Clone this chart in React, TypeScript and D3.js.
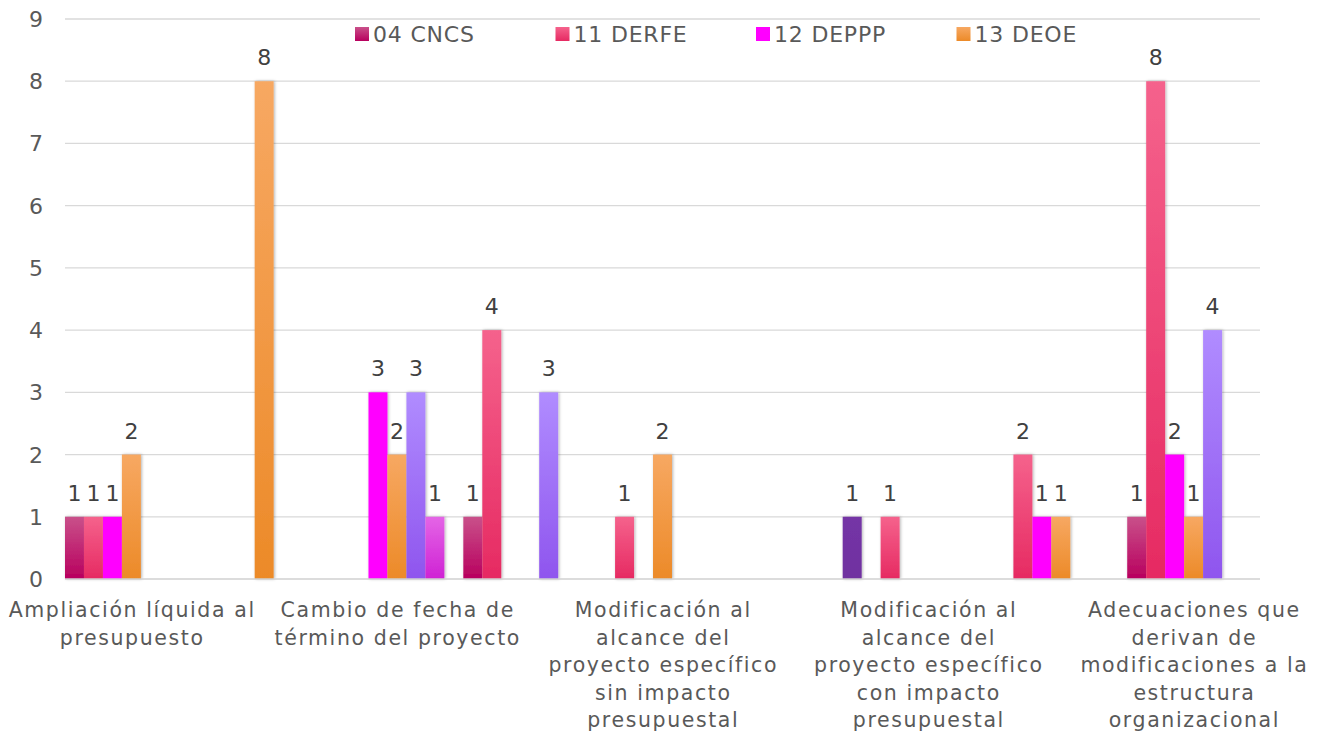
import React, { useEffect, useRef } from 'react';
import * as d3 from 'd3';

// categories on the x axis (Excel only prints every second label)
const categories = [
  'Ampliación líquida al\npresupuesto',
  'Categoría 2',
  'Cambio de fecha de\ntérmino del proyecto',
  'Categoría 4',
  'Modificación al\nalcance del\nproyecto específico\nsin impacto\npresupuestal',
  'Categoría 6',
  'Modificación al\nalcance del\nproyecto específico\ncon impacto\npresupuestal',
  'Categoría 8',
  'Adecuaciones que\nderivan de\nmodificaciones a la\nestructura\norganizacional',
];

const seriesNames = ['04 CNCS', '11 DERFE', '12 DEPPP', '13 DEOE', '14 DECEYEC', '15 DEA', '16 DESPEN'];
const legendNames = ['04 CNCS', '11 DERFE', '12 DEPPP', '13 DEOE'];

const cncs = [1, 0, 0, 1, 0, 0, 0, 0, 1];
const derfe = [1, 0, 0, 4, 1, 0, 1, 2, 8];
const deppp = [1, 0, 3, 0, 0, 0, 0, 1, 2];
const deoe = [2, 8, 2, 0, 2, 0, 0, 1, 1];
const deceyec = [0, 0, 3, 3, 0, 0, 0, 0, 4];
const dea = [0, 0, 1, 0, 0, 0, 0, 0, 0];
const despen = [0, 0, 0, 0, 0, 1, 0, 0, 0];

const seriesValues = [cncs, derfe, deppp, deoe, deceyec, dea, despen];

// gradient stops (top, bottom) per series
const seriesColors: Array<[string, string]> = [
  ['#C9508A', '#B8005E'],
  ['#F5628C', '#E62A62'],
  ['#FF00FF', '#FF00FF'],
  ['#F7A862', '#EC8A28'],
  ['#B08CFF', '#8F55EE'],
  ['#E465E6', '#CF22D4'],
  ['#7435A6', '#7030A0'],
];

const yTicks = [0, 1, 2, 3, 4, 5, 6, 7, 8, 9];

const W = 1323;
const H = 740;
const FONT = '"Century Gothic", "DejaVu Sans", sans-serif';

const App: React.FC = () => {
  const svgRef = useRef<SVGSVGElement>(null);

  useEffect(() => {
    if (!svgRef.current) return;
    const svg = d3.select(svgRef.current);
    svg.selectAll('*').remove();

    const left = 65, right = 1260, top = 19, bottom = 579;

    const defs = svg.append('defs');
    seriesColors.forEach((c, i) => {
      const lg = defs.append('linearGradient')
        .attr('id', `grad${i}`)
        .attr('x1', 0).attr('y1', 0).attr('x2', 0).attr('y2', 1);
      lg.append('stop').attr('offset', '0%').attr('stop-color', c[0]);
      lg.append('stop').attr('offset', '100%').attr('stop-color', c[1]);
    });
    const f = defs.append('filter').attr('id', 'shadow')
      .attr('x', '-30%').attr('y', '-5%').attr('width', '160%').attr('height', '110%');
    f.append('feDropShadow')
      .attr('dx', 1).attr('dy', 0).attr('stdDeviation', 1.6)
      .attr('flood-color', '#000').attr('flood-opacity', 0.3);

    const x = d3.scaleBand<string>().domain(categories).range([left, right]).padding(0);
    const xs = d3.scaleBand<number>().domain(seriesNames.map((_, i) => i)).range([0, x.bandwidth()]).padding(0);
    const y = d3.scaleLinear().domain([0, 9]).range([bottom, top]);

    // gridlines
    svg.append('g')
      .selectAll('line')
      .data(yTicks.filter(t => t > 0))
      .enter()
      .append('line')
      .attr('x1', left).attr('x2', right)
      .attr('y1', d => y(d)).attr('y2', d => y(d))
      .attr('stroke', '#D9D9D9')
      .attr('stroke-width', 1.3);

    // y labels
    svg.append('g')
      .selectAll('text')
      .data(yTicks)
      .enter()
      .append('text')
      .attr('x', 43)
      .attr('y', d => y(d) + 8)
      .attr('text-anchor', 'end')
      .attr('font-family', FONT)
      .attr('font-size', 22)
      .attr('fill', '#595959')
      .text(d => d);

    // bars
    const bars = svg.append('g').attr('filter', 'url(#shadow)');
    seriesValues.forEach((vals, si) => {
      bars.append('g')
        .selectAll('rect')
        .data(vals.map((v, ci) => ({ v, c: categories[ci] })).filter(d => d.v > 0))
        .enter()
        .append('rect')
        .attr('x', d => (x(d.c) || 0) + (xs(si) || 0))
        .attr('y', d => y(d.v))
        .attr('width', xs.bandwidth())
        .attr('height', d => bottom - y(d.v))
        .attr('fill', `url(#grad${si})`);
    });

    // data labels
    const labels = svg.append('g');
    seriesValues.forEach((vals, si) => {
      labels.append('g')
        .selectAll('text')
        .data(vals.map((v, ci) => ({ v, c: categories[ci] })).filter(d => d.v > 0))
        .enter()
        .append('text')
        .attr('x', d => (x(d.c) || 0) + (xs(si) || 0) + xs.bandwidth() / 2)
        .attr('y', d => y(d.v) - 16)
        .attr('text-anchor', 'middle')
        .attr('font-family', FONT)
        .attr('font-size', 22)
        .attr('fill', '#404040')
        .text(d => d.v);
    });

    // x axis line
    svg.append('line')
      .attr('x1', left).attr('x2', right)
      .attr('y1', bottom).attr('y2', bottom)
      .attr('stroke', '#D0D0D0')
      .attr('stroke-width', 1.6);

    // category labels, every second one
    const xl = svg.append('g');
    categories.forEach((c, i) => {
      if (i % 2 !== 0) return;
      const cx = (x(c) || 0) + x.bandwidth() / 2 + 0.8;
      const t = xl.append('text')
        .attr('text-anchor', 'middle')
        .attr('font-family', FONT)
        .attr('font-size', 20.5)
        .attr('letter-spacing', 1.6)
        .attr('fill', '#595959');
      c.split('\n').forEach((line, li) => {
        t.append('tspan').attr('x', cx).attr('y', 617 + li * 27.5).text(line);
      });
    });

    // legend
    const lg = svg.append('g');
    legendNames.forEach((name, i) => {
      const gx = 355 + i * 200.5;
      lg.append('rect')
        .attr('x', gx).attr('y', 27)
        .attr('width', 14).attr('height', 14)
        .attr('fill', `url(#grad${i})`);
      lg.append('text')
        .attr('x', gx + 18).attr('y', 42)
        .attr('font-family', FONT)
        .attr('font-size', 22)
        .attr('letter-spacing', 0.8)
        .attr('fill', '#595959')
        .text(name);
    });
  }, []);

  return (
    <svg
      ref={svgRef}
      width={W}
      height={H}
      viewBox={`0 0 ${W} ${H}`}
      style={{ position: 'absolute', left: 0, top: 0, background: '#fff' }}
    />
  );
};

export default App;
